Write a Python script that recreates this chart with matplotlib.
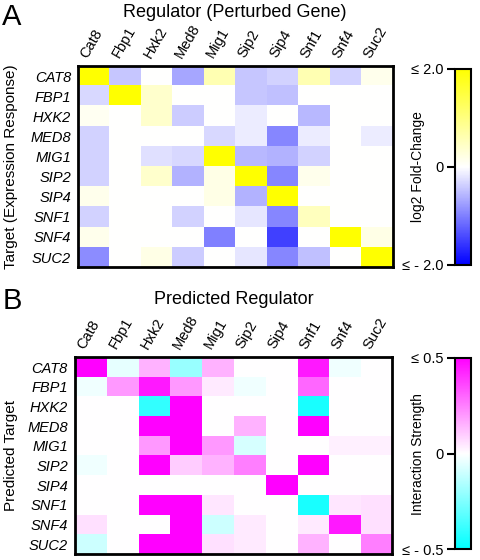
import numpy as np
import matplotlib
matplotlib.use("Agg")
import matplotlib.pyplot as plt
from matplotlib.colors import LinearSegmentedColormap

plt.rcParams['font.family'] = ['Liberation Sans', 'DejaVu Sans']

regulators = ["Cat8", "Fbp1", "Hxk2", "Med8", "Mig1", "Sip2", "Sip4", "Snf1", "Snf4", "Suc2"]
targets = ["CAT8", "FBP1", "HXK2", "MED8", "MIG1", "SIP2", "SIP4", "SNF1", "SNF4", "SUC2"]

# log2 fold-change (rows = targets, cols = perturbed regulators)
fold_change = [
    [2.0, -0.45, 0.0, -0.7, 0.6, -0.45, -0.35, 0.6, -0.35, 0.15],
    [-0.3, 2.0, 0.4, 0.0, 0.0, -0.45, -0.5, 0.0, 0.0, 0.0],
    [0.1, 0.0, 0.4, -0.4, 0.0, -0.15, 0.0, -0.55, 0.0, 0.0],
    [-0.35, 0.0, 0.0, 0.0, -0.3, -0.15, -0.95, -0.15, 0.0, -0.15],
    [-0.35, 0.0, -0.25, -0.3, 2.0, -0.55, -0.6, -0.35, 0.0, 0.0],
    [-0.35, 0.0, 0.4, -0.6, 0.2, 2.0, -0.95, 0.15, 0.0, 0.0],
    [0.15, 0.0, 0.0, 0.0, 0.2, -0.6, 2.0, 0.0, 0.0, 0.0],
    [-0.35, 0.0, 0.0, -0.35, 0.0, -0.2, -0.95, 0.5, 0.0, 0.0],
    [0.15, 0.0, 0.0, 0.0, -1.0, 0.0, -1.5, 0.0, 2.0, 0.2],
    [-0.9, 0.0, 0.2, -0.4, 0.0, -0.2, -0.95, -0.5, 0.0, 2.0],
]

# predicted interaction strength
interaction = [
    [0.5, -0.05, 0.15, -0.2, 0.15, 0.0, 0.0, 0.45, -0.03, 0.0],
    [-0.03, 0.2, 0.45, 0.2, 0.04, -0.03, 0.0, 0.3, 0.0, 0.0],
    [0.0, 0.0, -0.4, 0.5, 0.0, 0.0, 0.0, -0.45, 0.0, 0.0],
    [0.0, 0.0, 0.5, 0.5, 0.0, 0.15, 0.0, 0.5, 0.0, 0.0],
    [0.0, 0.0, 0.2, 0.5, 0.2, -0.08, 0.0, 0.0, 0.03, 0.03],
    [-0.03, 0.0, 0.5, 0.1, 0.15, 0.25, 0.0, 0.5, 0.0, 0.0],
    [0.0, 0.0, 0.0, 0.0, 0.0, 0.0, 0.5, 0.0, 0.0, 0.0],
    [0.0, 0.0, 0.5, 0.5, 0.05, 0.0, 0.0, -0.45, 0.05, 0.06],
    [0.06, 0.0, 0.0, 0.5, -0.1, 0.04, 0.0, 0.04, 0.45, 0.06],
    [-0.1, 0.0, 0.5, 0.5, 0.06, 0.04, 0.0, 0.15, 0.0, 0.25],
]

cmap_a = LinearSegmentedColormap.from_list("by", ["#0000ff", "#ffffff", "#ffff00"])
cmap_b = LinearSegmentedColormap.from_list("cm", ["#00ffff", "#ffffff", "#ff00ff"])

fig = plt.figure(figsize=(4.8, 5.6), dpi=100)


def heat(ax, cax, data, cmap, vmax, ylabel, cbar_label, tick_labels):
    im = ax.imshow(np.array(data), cmap=cmap, vmin=-vmax, vmax=vmax,
                   aspect='auto', interpolation='nearest')
    ax.set_xticks([])
    ax.set_yticks(range(len(targets)))
    ax.set_yticklabels(targets, style='italic', fontsize=10.5)
    ax.tick_params(axis='y', length=0, pad=5)
    # rotated column labels above the box
    for j, name in enumerate(regulators):
        ax.text(j - 0.12, -0.8, name, rotation=60, rotation_mode='anchor',
                ha='left', va='bottom', fontsize=10.5)
    for s in ax.spines.values():
        s.set_linewidth(2)
    pos = ax.get_position()
    fig.text(0.022, (pos.y0 + pos.y1) / 2, ylabel, rotation=90,
             ha='center', va='center', fontsize=11)

    cb = fig.colorbar(im, cax=cax, ticks=[-vmax, 0, vmax])
    cb.outline.set_linewidth(1.5)
    cax.yaxis.set_ticks_position('left')
    cb.set_ticklabels(tick_labels)
    cax.tick_params(axis='y', length=6, width=1.5, labelsize=10.5, pad=2)
    cpos = cax.get_position()
    fig.text(0.871, (cpos.y0 + cpos.y1) / 2, cbar_label, rotation=90,
             ha='center', va='center', fontsize=10)


ax_a = fig.add_axes([0.1625, 0.523, 0.656, 0.359])
cax_a = fig.add_axes([0.948, 0.527, 0.034, 0.350])
heat(ax_a, cax_a, fold_change, cmap_a, 2.0, "Target (Expression Response)",
     "log2 Fold-Change", ["\u2264 - 2.0", "0", "\u2264 2.0"])

ax_b = fig.add_axes([0.156, 0.011, 0.661, 0.351])
cax_b = fig.add_axes([0.948, 0.019, 0.034, 0.342])
heat(ax_b, cax_b, interaction, cmap_b, 0.5, "Predicted Target",
     "Interaction Strength", ["\u2264 - 0.5", "0", "\u2264 0.5"])

fig.text(0.49, 0.978, "Regulator (Perturbed Gene)", ha='center', va='center', fontsize=13)
fig.text(0.488, 0.466, "Predicted Regulator", ha='center', va='center', fontsize=13)
fig.text(0.005, 0.995, "A", ha='left', va='top', fontsize=21)
fig.text(0.005, 0.488, "B", ha='left', va='top', fontsize=21)

fig.savefig("out.png", dpi=100)
